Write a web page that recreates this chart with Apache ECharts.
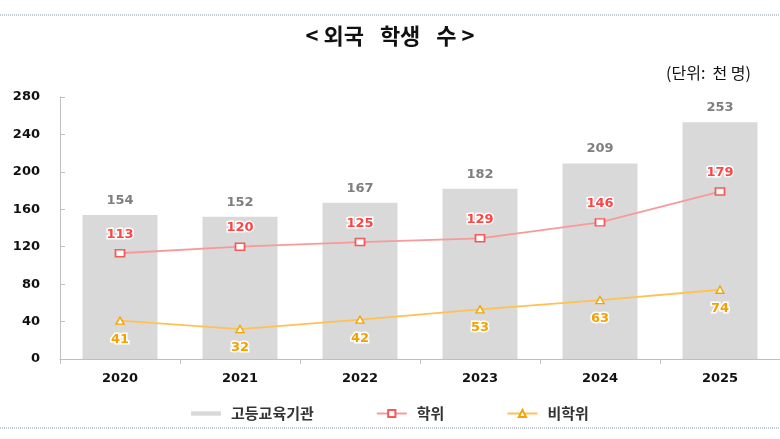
<!DOCTYPE html>
<html><head><meta charset="utf-8">
<script src="https://cdn.jsdelivr.net/npm/echarts@6/dist/echarts.min.js"></script>
<style>html,body{margin:0;padding:0;background:#fff}#c{width:780px;height:439px}</style>
</head><body><div id="c"></div>
<script>
var categories = ['2020','2021','2022','2023','2024','2025'];
var higherEdu = [154,152,167,182,209,253];
var degree = [113,120,125,129,146,179];
var nonDegree = [41,32,42,53,63,74];
var yTicks = [0,40,80,120,160,200,240,280];

var F = "'DejaVu Sans','Noto Sans CJK KR',sans-serif";
var K = "'Noto Sans CJK KR',sans-serif";
var chart = echarts.init(document.getElementById('c'));
chart.setOption({
  animation:false,
  backgroundColor:'#fff',
  title:[
    {text:'< 외국\u2002 학생\u2002 수 >', left:'center', top:20, textStyle:{fontFamily:K, fontSize:22, fontWeight:'bold', color:'#111'}},
    {text:'(단위:  천 명)', right:24, top:60, textStyle:{fontFamily:K, fontSize:16, fontWeight:'normal', color:'#111'}}
  ],
  graphic:[
    {type:'line', shape:{x1:0,y1:15,x2:780,y2:15}, style:{stroke:'#8a9aa8', lineWidth:1, lineDash:[1,1]}},
    {type:'line', shape:{x1:0,y1:428,x2:780,y2:428}, style:{stroke:'#8a9aa8', lineWidth:1, lineDash:[1,1]}}
  ],
  legend:{
    left:186, top:401, itemGap:62, itemWidth:30, itemHeight:9,
    textStyle:{fontFamily:K, fontSize:15, fontWeight:'bold', color:'#333', padding:[0,0,0,5]},
    data:[
      {name:'고등교육기관', icon:'path://M0,0 L34,0 L34,5 L0,5 Z'},
      {name:'학위'},
      {name:'비학위'}
    ]
  },
  grid:{left:60, right:0, top:97, bottom:80},
  xAxis:{
    type:'category', data:categories,
    axisLine:{lineStyle:{color:'#bfbfbf'}},
    axisTick:{show:true, length:5, lineStyle:{color:'#bfbfbf'}},
    axisLabel:{fontFamily:F, fontSize:13, fontWeight:'bold', color:'#111', margin:13}
  },
  yAxis:{
    type:'value', min:0, max:280, interval:40,
    splitLine:{show:false},
    axisLine:{show:true, lineStyle:{color:'#bfbfbf'}},
    axisTick:{show:true, inside:true, length:5, lineStyle:{color:'#bfbfbf'}},
    axisLabel:{fontFamily:F, fontSize:13, fontWeight:'bold', color:'#111', margin:20,
      formatter:function(v){return yTicks.indexOf(v)>=0?String(v):'';}}
  },
  series:[
    {name:'고등교육기관', type:'bar', data:higherEdu, barWidth:75,
      itemStyle:{color:'#d9d9d9'},
      label:{show:true, position:'top', distance:8, fontFamily:F, fontSize:13, fontWeight:'bold', color:'#7f7f7f'}},
    {name:'학위', type:'line', data:degree, symbol:'rect', symbolSize:[9,7],
      lineStyle:{color:'#f79a9a', width:1.8},
      itemStyle:{color:'#fff', borderColor:'#f45a5a', borderWidth:1.6},
      label:{show:true, position:'top', distance:8, fontFamily:F, fontSize:13, fontWeight:'bold', color:'#ff4444',
        textBorderColor:'#fff', textBorderWidth:3}},
    {name:'비학위', type:'line', data:nonDegree, symbol:'triangle', symbolSize:[8,7],
      lineStyle:{color:'#ffc154', width:1.8},
      itemStyle:{color:'#fff', borderColor:'#f5a300', borderWidth:1.4},
      label:{show:true, position:'bottom', distance:8, fontFamily:F, fontSize:13, fontWeight:'bold', color:'#f5a000',
        textBorderColor:'#fff', textBorderWidth:3}}
  ]
});
</script></body></html>
